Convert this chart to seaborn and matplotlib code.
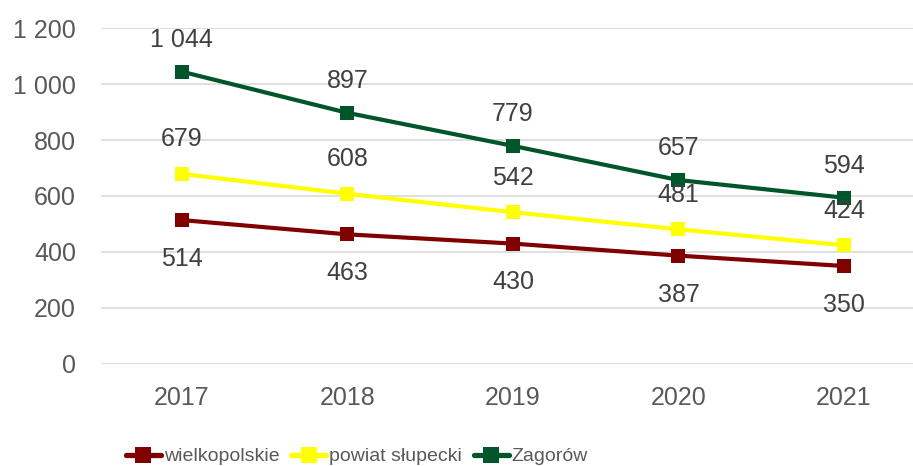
import matplotlib
matplotlib.use("Agg")
import matplotlib.pyplot as plt
import seaborn as sns
import pandas as pd
from matplotlib.ticker import FuncFormatter

years = ["2017", "2018", "2019", "2020", "2021"]
wielkopolskie = [514, 463, 430, 387, 350]
powiat_slupecki = [679, 608, 542, 481, 424]
zagorow = [1044, 897, 779, 657, 594]
series_names = ["wielkopolskie", "powiat słupecki", "Zagorów"]
colors = ["#800000", "#FFFF00", "#00552A"]
y_ticks = [0, 200, 400, 600, 800, 1000, 1200]

df = pd.DataFrame({
    "rok": list(range(len(years))) * 3,
    "wartosc": wielkopolskie + powiat_slupecki + zagorow,
    "seria": [s for s in series_names for _ in years],
})

sns.set_theme(style="white")
plt.rcParams["font.family"] = ["Liberation Sans", "DejaVu Sans"]

fig = plt.figure(figsize=(9.13, 4.66), dpi=100)
ax = fig.add_axes([0.1106, 0.2189, 0.8894, 0.7210])

sns.lineplot(data=df, x="rok", y="wartosc", hue="seria", hue_order=series_names,
             palette=colors, marker="s", markersize=10, markeredgewidth=0,
             linewidth=3, dashes=False, legend=False, ax=ax, zorder=3)

def fmt(v):
    return f"{int(v):,}".replace(",", " ")

label_color = "#404040"
offsets = {"wielkopolskie": -28, "powiat słupecki": 25, "Zagorów": 23}
for name, vals in zip(series_names, [wielkopolskie, powiat_slupecki, zagorow]):
    for i, v in enumerate(vals):
        ax.annotate(fmt(v), (i, v), xytext=(0, offsets[name]), textcoords="offset points",
                    ha="center", va="center", fontsize=18, color=label_color, zorder=4)

ax.set_xlim(-0.489, 4.417)
ax.set_ylim(0, 1200)
ax.set_yticks(y_ticks)
ax.yaxis.set_major_formatter(FuncFormatter(lambda v, p: fmt(v)))
ax.set_xticks(range(len(years)))
ax.set_xticklabels(years)
ax.tick_params(axis="both", labelsize=18, colors="#595959", length=0)
ax.tick_params(axis="y", pad=18)
ax.tick_params(axis="x", pad=16)
ax.set_xlabel("")
ax.set_ylabel("")
ax.grid(axis="y", color="#D9D9D9", linewidth=1.2)
ax.set_axisbelow(True)
for s in ax.spines.values():
    s.set_visible(False)

handles = [plt.Line2D([], [], color=c, linewidth=3.8, marker="s", markersize=11,
                      markeredgewidth=0) for c in colors]
fig.legend(handles, series_names, loc="center left", bbox_to_anchor=(0.138, 0.02),
           ncol=3, frameon=False, fontsize=14, handlelength=1.8, handletextpad=0.15,
           columnspacing=0.6, labelcolor="#595959", borderaxespad=0, borderpad=0)

fig.savefig("out.png", dpi=100)
